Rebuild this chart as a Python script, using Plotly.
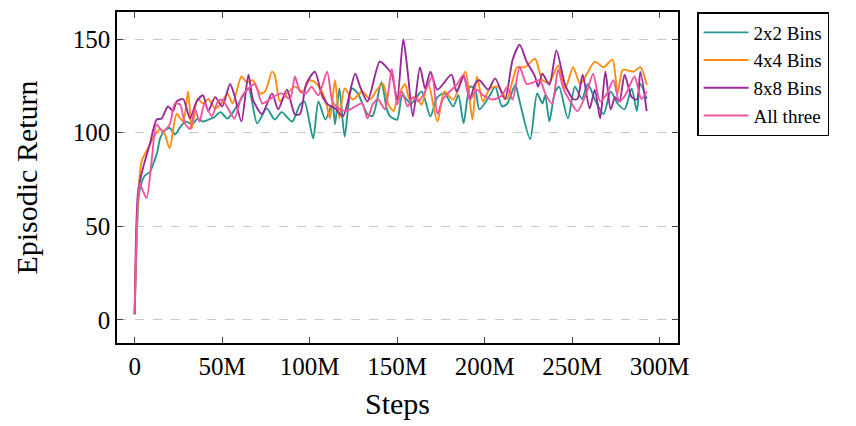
import plotly.graph_objects as go

# Steps (millions) and episodic returns for each series
steps_2x2 = [0, 2, 3, 5.7, 8.7, 10.5, 13, 14.5, 17, 20, 23, 26, 29, 33, 36, 39, 44, 46, 49, 53, 59, 65, 70, 75.5, 80, 84, 90, 94.5, 97,
             102, 105, 109, 113, 114.5, 117, 120, 124, 127.5, 133, 136, 141, 144, 146, 150, 153, 158, 164, 169, 173, 177, 182, 185,
             188, 191.6, 194.5, 197, 203, 206, 210, 213, 217.5, 220, 226, 230, 233, 234.6, 237, 240, 242.5, 247.6, 251.6, 255.6, 259,
             263, 268, 272, 276, 280, 284, 287, 289, 292.6]
ret_2x2 = [3, 62, 70, 77, 79, 83, 90, 97, 101, 102.5, 99, 103, 106, 104.5, 107.6, 106, 107.6, 108.7, 111, 107.6, 115, 123.6, 105, 113,
           107, 111, 106, 115, 116.7, 97, 116.7, 107, 115.6, 104.5, 123.6, 98, 123.6, 121, 110, 109, 127, 113, 108.7, 107, 120, 115.6,
           122, 108.7, 119, 121, 114, 120, 105, 124.6, 123.6, 112.5, 120, 124.6, 114, 115.6, 125.6, 116.7, 96.5, 121, 115.6, 120, 106,
           121, 124.6, 107.6, 124.6, 118, 126, 117.7, 110, 122, 115.6, 112.5, 123.6, 111.5, 126, 118]

steps_4x4 = [0, 2, 4, 7.6, 10.5, 14.5, 17, 20, 24, 27.7, 30.5, 32.6, 36, 39, 42, 46, 49, 53, 56, 61, 64, 67.6, 71.6, 74.5, 78.5, 80, 83,
             87, 91.6, 96, 100, 103, 106, 109, 111.6, 114.5, 117, 120, 124.7, 130, 134.5, 138.5, 142, 145, 148, 150, 154.5, 157, 161,
             164, 167.6, 173, 177, 182, 189, 193, 195.6, 199, 203, 207.6, 212.6, 216, 218.5, 223, 228.8, 233, 237, 242, 246, 250.6,
             254.5, 258.5, 263, 268, 273, 276, 279, 285, 289, 292.6]
ret_4x4 = [3, 66, 84.8, 91.7, 97, 102, 99.7, 91.7, 110, 106, 122, 102, 118, 115.6, 118, 113, 115, 121, 115.6, 130, 127, 128, 121, 122,
           132.6, 131, 116.7, 121, 124.6, 122, 128, 127, 123.6, 117.7, 107.6, 128, 107.6, 123.6, 117.7, 122, 117.7, 123, 126, 115,
           111.5, 118, 126, 118, 119, 115, 127, 106, 122, 117.7, 132.6, 107, 130, 116.7, 123.6, 124.6, 118, 128, 135, 135, 139.5, 128,
           127, 136, 123.6, 135, 126, 131.5, 138, 135, 139, 121, 133.6, 132.6, 135, 125.6]

steps_8x8 = [0, 2, 5, 8.7, 12.5, 15.4, 19, 22, 24, 27.7, 31.6, 35.4, 39, 42, 46, 50, 54.5, 57, 61, 65, 67.6, 72.7, 78.5, 82, 87, 91.6,
             94.5, 98, 103, 107, 110.5, 114.5, 119, 126, 128.8, 133, 140, 143, 147, 150, 153.5, 156, 159, 163, 166, 169, 173, 181,
             184, 188, 191.6, 194.5, 197, 202, 206, 211.6, 216, 220, 224, 228.8, 230.6, 233, 237, 241, 246, 250.6, 253, 256, 260, 263,
             266, 269, 272, 274.6, 277, 280, 284, 287, 289, 292.6]
ret_8x8 = [3, 69, 82, 94, 107, 107.6, 114, 111.5, 116.7, 118, 107.6, 116.7, 120, 111.5, 119, 114, 126, 120, 106, 131, 117.7, 110,
           121, 112.5, 123, 109.7, 110, 126, 132.6, 120, 115, 113, 108.7, 131.5, 124.6, 116.7, 138, 136, 131, 117.7, 150, 132.6, 108.7,
           135, 123.6, 132.6, 123, 131, 122, 130, 118, 126, 128, 123, 129, 118, 139, 147, 138, 130, 124.6, 131.5, 125.6, 144, 125.6,
           118, 118, 131, 113, 123, 107.6, 132.6, 112.5, 119, 116.7, 131, 119, 117.7, 132.6, 111.5]

steps_all = [0, 2.8, 4, 6.8, 9.7, 12.5, 16, 20, 23, 26, 28.7, 31.6, 34.5, 37, 40, 44, 47.6, 50, 52.7, 57, 61, 65, 68.7, 73, 79, 84,
             88.7, 91.6, 94.5, 98, 101, 105, 110, 113, 116.5, 121, 126, 130, 133, 136, 139, 143, 147, 150, 152.7, 156, 159, 162, 166,
             170, 173, 176, 180, 184, 188, 191.6, 195.6, 199, 205, 210, 213, 216, 220, 224, 228, 231.6, 234.6, 238.5, 242, 245, 249,
             253, 258.5, 262, 266, 270, 273.5, 277, 281, 285.6, 289.6, 292.6]
ret_all = [3, 72.6, 70.5, 65, 85, 104.4, 100.7, 104.4, 115.6, 115, 105, 102, 112.5, 106, 115.6, 108.7, 116.7, 117.7, 114, 107.6,
           119, 123.6, 126, 115.6, 119, 121, 118, 130, 122, 121, 124.6, 120, 132.6, 116.7, 113, 111.5, 114, 115.6, 107.6, 115, 118,
           112.5, 134, 115, 122, 114, 119, 116.7, 122, 130, 110, 117.7, 122, 125.6, 131, 117.7, 123, 120, 117.7, 120, 124.6, 117.7,
           135, 126, 127, 128, 121, 115.6, 133.6, 123.6, 116.7, 111.5, 122, 131.5, 116.7, 121, 128, 116.7, 121, 130, 118, 122]

series_names = ["2x2 Bins", "4x4 Bins", "8x8 Bins", "All three"]
series_colors = ["#26968f", "#ff8c12", "#982a9a", "#f0569f"]

x_tick_vals = [0, 50, 100, 150, 200, 250, 300]
x_tick_text = ["0", "50M", "100M", "150M", "200M", "250M", "300M"]
y_tick_vals = [0, 50, 100, 150]

FONT = "Liberation Serif"

fig = go.Figure()
for name, xs, ys, col in zip(series_names, [steps_2x2, steps_4x4, steps_8x8, steps_all],
                             [ret_2x2, ret_4x4, ret_8x8, ret_all], series_colors):
    fig.add_trace(go.Scatter(x=xs, y=ys, mode="lines", name=name,
                             line=dict(color=col, width=1.9, shape="spline", smoothing=0.7)))

fig.update_layout(
    width=856, height=426,
    margin=dict(l=117, r=178, t=10, b=83),
    plot_bgcolor="white", paper_bgcolor="white",
    font=dict(family=FONT, size=25, color="black"),
    showlegend=True,
    legend=dict(x=1.034, y=1.0, xanchor="left", yanchor="top",
                bordercolor="black", borderwidth=1.5, bgcolor="white",
                font=dict(family=FONT, size=19), tracegroupgap=0, itemwidth=45),
    xaxis=dict(range=[-10.1, 310.5], tickvals=x_tick_vals, ticktext=x_tick_text,
               ticks="inside", ticklen=6, tickcolor="#444", showline=True, linecolor="black",
               linewidth=1.5, mirror="ticks", showgrid=False, zeroline=False,
               title=dict(text="Steps", standoff=14), tickfont=dict(size=25)),
    yaxis=dict(range=[-12.4, 164.5], tickvals=y_tick_vals,
               ticks="inside", ticklen=6, tickcolor="#444", showline=True, linecolor="black",
               linewidth=1.5, mirror="ticks", showgrid=True, gridcolor="#c8c8c8",
               griddash="dash", gridwidth=1, zeroline=False,
               title=dict(text="Episodic Return", standoff=26), tickfont=dict(size=25)),
)

fig.write_html("out.html")
